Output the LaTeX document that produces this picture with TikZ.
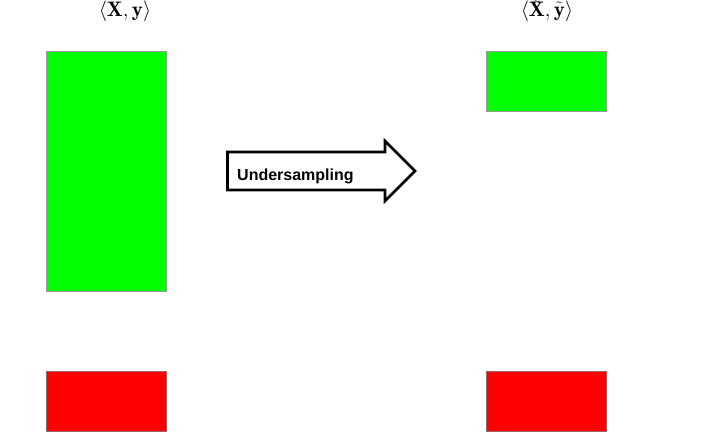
\documentclass[tikz,border=0pt]{standalone}
\usepackage{amsmath}
\usepackage{fontspec}
\newfontfamily\arrowfont{Liberation Sans}
\newcommand{\lowtildeX}{\ooalign{$\mathbf{X}$\cr\raisebox{-3.5pt}[0pt][0pt]{$\tilde{\phantom{\mathbf{X}}}$}}}
\begin{document}
\begin{tikzpicture}[x=1pt,y=-1pt,
  greenbox/.style={draw=gray!80, line width=0.8pt, fill={rgb,255:red,0;green,255;blue,0}},
  redbox/.style={draw=gray!80!red, line width=0.8pt, fill={rgb,255:red,255;green,0;blue,0}},
  setlabel/.style={font=\fontsize{21}{25}\selectfont, inner sep=0pt, anchor=base}]
\useasboundingbox (0,0) rectangle (717,432);
\fill[white] (0,0) rectangle (717,432);
% left set
\node[setlabel] (lx) at (125,16) {$\langle\mathbf{X},\mathbf{y}\rangle$};
\path[greenbox] (46.5,51.5) rectangle (166.5,291.5);
\node[inner sep=0pt] (lg) at (106.5,171.5) {};
\path[redbox] (46.5,371.5) rectangle (166.5,431.5);
\node[inner sep=0pt] (lr) at (106.5,401.5) {};
% right set
\node[setlabel] (rx) at (547,16) {$\langle\lowtildeX,\tilde{\mathbf{y}}\rangle$};
\path[greenbox] (486.5,51.5) rectangle (606.5,111.5);
\node[inner sep=0pt] (rg) at (546.5,81.5) {};
\path[redbox] (486.5,371.5) rectangle (606.5,431.5);
\node[inner sep=0pt] (rr) at (546.5,401.5) {};
% arrow
\draw[line width=2.6pt, fill=white, line join=miter]
  (227.5,152) -- (385,152) -- (385,141) -- (415,171) -- (385,201) -- (385,190) -- (227.5,190) -- cycle;
\node[anchor=base west, inner sep=0pt, font=\arrowfont\bfseries\fontsize{16}{19}\selectfont] (ua) at (237,180) {Undersampling};
\end{tikzpicture}
\end{document}
